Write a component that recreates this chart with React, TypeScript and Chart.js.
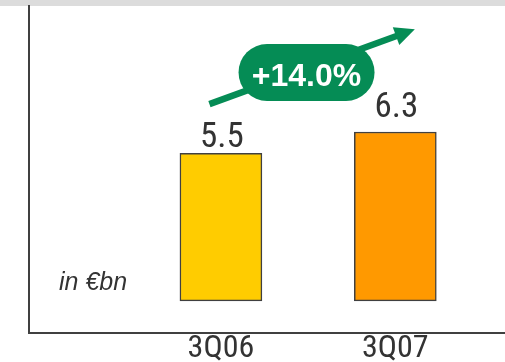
import React, { useEffect, useRef } from 'react';
import { Chart, registerables } from 'chart.js';

Chart.register(...registerables);

const categories = ['3Q06', '3Q07'];
const revenue = [5.5, 6.3];
const barColors = ['#FFCC00', '#FF9900'];
const growthLabel = '+14.0%';
const unitLabel = 'in €bn';

const NARROW = 'Roboto, "DejaVu Sans Condensed", sans-serif';
const SANS = '"Liberation Sans", Arial, sans-serif';
const GREEN = '#058C55';
const AXIS = '#404040';
const TEXT = '#333333';

const overlay = {
  id: 'overlay',
  beforeDraw(chart: any) {
    const ctx = chart.ctx;
    ctx.save();
    ctx.fillStyle = '#dcdcdc';
    ctx.fillRect(0, 0, chart.width, chart.chartArea.top);
    ctx.restore();
  },
  afterDatasetsDraw(chart: any) {
    const { ctx, chartArea, scales } = chart;
    const x = scales.x;
    const y = scales.y;
    const meta = chart.getDatasetMeta(0);
    const gaps = [6, 15];
    ctx.save();
    // value labels
    ctx.fillStyle = TEXT;
    ctx.font = `condensed 35px ${NARROW}`;
    ctx.textAlign = 'center';
    ctx.textBaseline = 'alphabetic';
    meta.data.forEach((bar: any, i: number) => {
      ctx.fillText(revenue[i].toFixed(1), bar.x + 1, bar.y - gaps[i]);
    });
    // unit label
    ctx.font = `italic 25px ${SANS}`;
    ctx.textAlign = 'left';
    ctx.fillText(unitLabel, chartArea.left + 30, chartArea.bottom - 43);

    // growth arrow
    const sx = x.getPixelForValue(-0.066);
    const sy = y.getPixelForValue(7.34);
    const tx = x.getPixelForValue(1.112);
    const ty = y.getPixelForValue(10.13);
    const ang = Math.atan2(ty - sy, tx - sx);
    const c = Math.cos(ang);
    const s = Math.sin(ang);
    const headLen = 20;
    const headHalf = 9.5;
    const bx = tx - headLen * c;
    const by = ty - headLen * s;
    ctx.strokeStyle = GREEN;
    ctx.lineWidth = 6.5;
    ctx.lineCap = 'butt';
    ctx.beginPath();
    ctx.moveTo(sx, sy);
    ctx.lineTo(bx + 2 * c, by + 2 * s);
    ctx.stroke();
    ctx.fillStyle = GREEN;
    ctx.beginPath();
    ctx.moveTo(tx, ty);
    ctx.lineTo(bx - headHalf * s, by + headHalf * c);
    ctx.lineTo(bx + headHalf * s, by - headHalf * c);
    ctx.closePath();
    ctx.fill();

    // pill
    const cx = x.getPixelForValue(0.491);
    const cy = y.getPixelForValue(8.52);
    const w = 136;
    const h = 57;
    const r = h / 2;
    ctx.beginPath();
    ctx.moveTo(cx - w / 2 + r, cy - r);
    ctx.lineTo(cx + w / 2 - r, cy - r);
    ctx.arc(cx + w / 2 - r, cy, r, -Math.PI / 2, Math.PI / 2);
    ctx.lineTo(cx - w / 2 + r, cy + r);
    ctx.arc(cx - w / 2 + r, cy, r, Math.PI / 2, Math.PI * 1.5);
    ctx.closePath();
    ctx.fill();
    ctx.fillStyle = '#ffffff';
    ctx.font = `bold 32px ${SANS}`;
    ctx.textAlign = 'center';
    ctx.fillText(growthLabel, cx, cy + 13.5);
    ctx.restore();
  },
};

export default function App() {
  const ref = useRef<HTMLCanvasElement>(null);
  useEffect(() => {
    if (!ref.current) return;
    const chart = new Chart(ref.current, {
      type: 'bar',
      data: {
        datasets: [
          {
            data: revenue.map((v, i) => ({ x: i, y: v })) as any,
            backgroundColor: barColors,
            borderColor: AXIS,
            borderWidth: 1.5,
            borderSkipped: false,
            barThickness: 82,
          },
        ],
      },
      options: {
        responsive: false,
        animation: false,
        layout: { padding: { top: 6, left: 29, right: 0, bottom: 0 } },
        plugins: { legend: { display: false }, tooltip: { enabled: false } },
        scales: {
          x: {
            type: 'linear',
            offset: false,
            min: -1.1006,
            max: 1.629,
            grid: { display: false, drawTicks: false, offset: false },
            border: { display: true, color: AXIS, width: 2 },
            ticks: {
              autoSkip: false,
              maxRotation: 0,
              padding: -3,
              color: TEXT,
              font: { family: NARROW, size: 32, weight: 'condensed' },
              callback: (v: any) => categories[v] ?? '',
            },
            afterBuildTicks: (sc: any) => {
              sc.ticks = categories.map((_, i) => ({ value: i }));
            },
            afterFit: (sc: any) => {
              sc.height = 29;
            },
          },
          y: {
            min: -1.2,
            max: 11,
            grid: { display: false, drawTicks: false },
            border: { display: true, color: AXIS, width: 2 },
            ticks: { display: false },
          },
        },
      } as any,
      plugins: [overlay],
    });
    return () => chart.destroy();
  }, []);
  return (
    <div style={{ position: 'absolute', left: 0, top: 0, width: 505, height: 362 }}>
      <canvas ref={ref} width={505} height={362} style={{ display: 'block' }} />
    </div>
  );
}
